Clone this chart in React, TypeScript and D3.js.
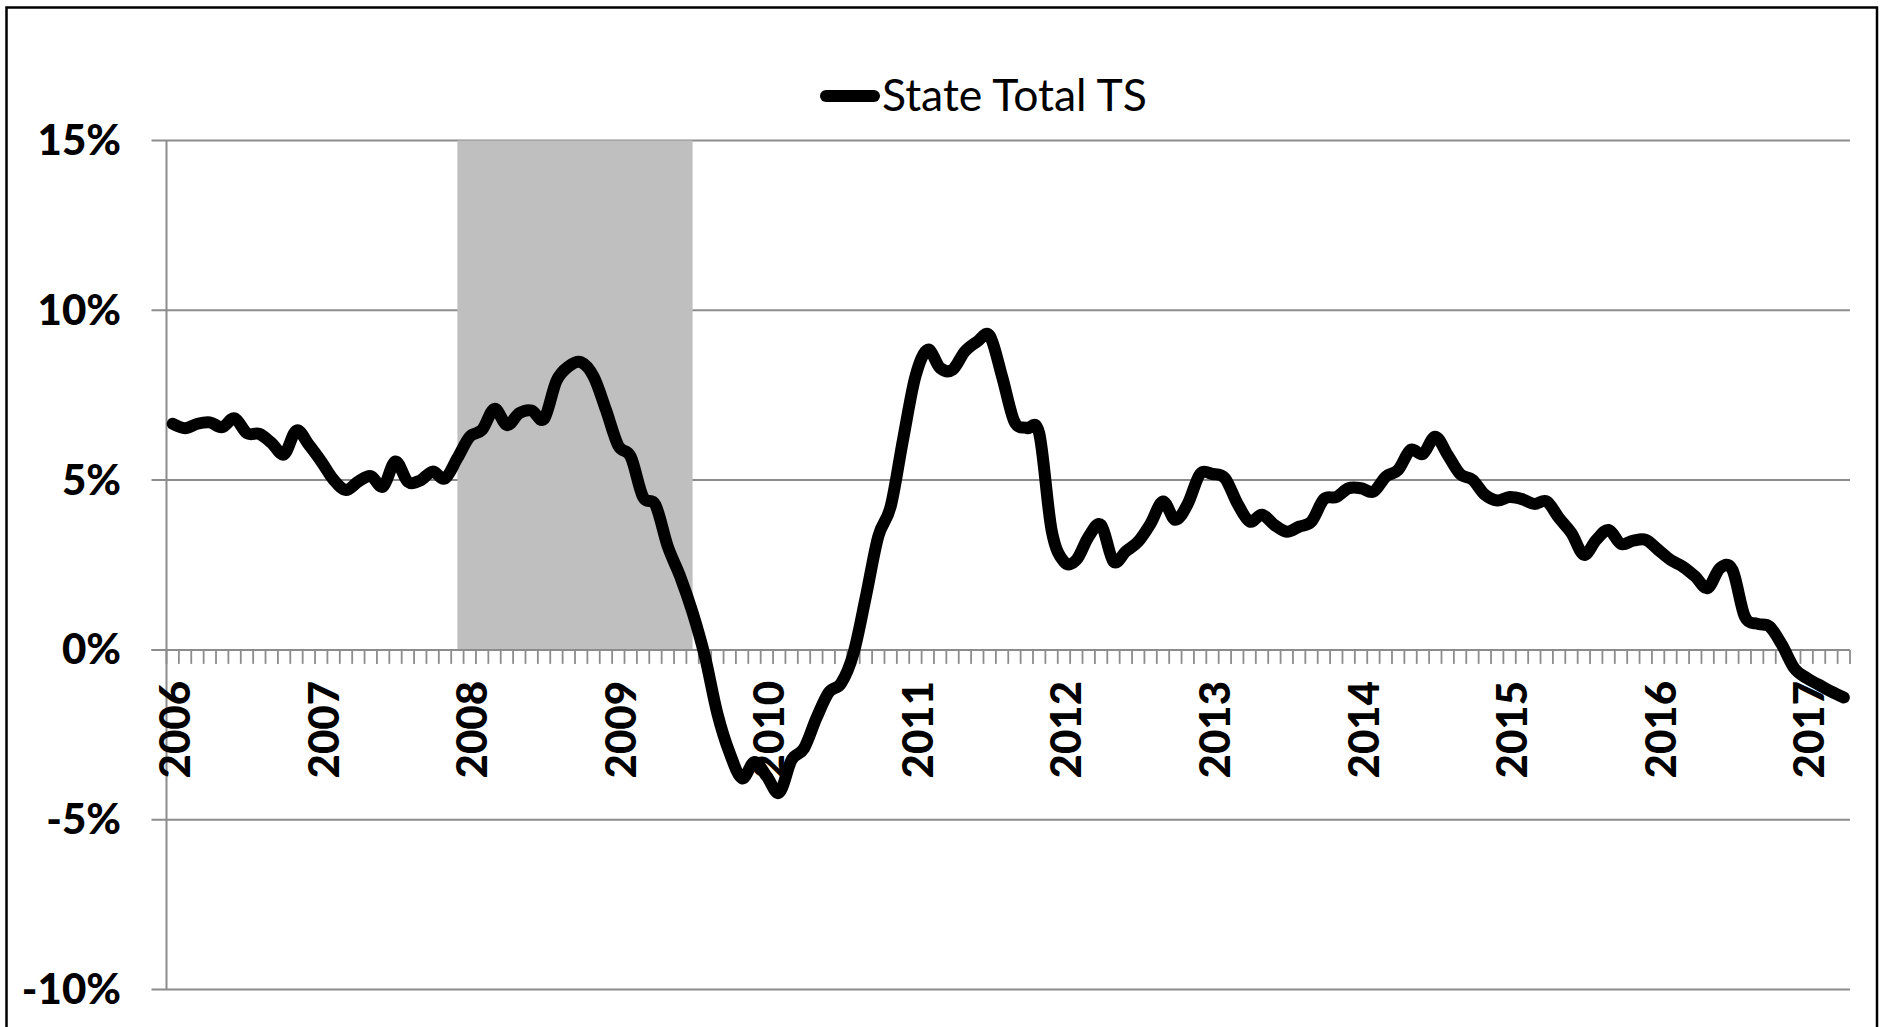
import React, { useEffect, useRef } from "react";
import * as d3 from "d3";

// monthly categories, Jan 2006 .. Apr 2017
const years = ["2006", "2007", "2008", "2009", "2010", "2011", "2012", "2013", "2014", "2015", "2016", "2017"];
const monthNums = ["01", "02", "03", "04", "05", "06", "07", "08", "09", "10", "11", "12"];

// State Total TS, year-over-year growth in %
const stateTotalTS = [
  6.66, 6.53, 6.66, 6.70, 6.56, 6.82, 6.38, 6.36, 6.09, 5.76, 6.46, 6.04,
  5.55, 5.01, 4.71, 4.96, 5.12, 4.81, 5.55, 4.95, 4.99, 5.25, 5.05, 5.65,
  6.28, 6.48, 7.10, 6.62, 6.97, 7.05, 6.80, 7.92, 8.35, 8.47, 8.05, 7.07,
  6.01, 5.69, 4.50, 4.27, 3.04, 2.16, 1.10, -0.20, -1.87, -3.04, -3.78, -3.30,
  -3.73, -4.20, -3.24, -2.90, -2.01, -1.25, -0.98, -0.10, 1.57, 3.34, 4.22, 6.19,
  8.05, 8.84, 8.30, 8.25, 8.79, 9.08, 9.25, 8.05, 6.72, 6.53, 6.38, 3.53,
  2.60, 2.65, 3.34, 3.68, 2.60, 2.90, 3.19, 3.72, 4.37, 3.83, 4.30, 5.18,
  5.18, 5.06, 4.32, 3.78, 3.98, 3.68, 3.48, 3.63, 3.78, 4.44, 4.50, 4.76,
  4.76, 4.66, 5.10, 5.30, 5.89, 5.77, 6.28, 5.74, 5.18, 5.01, 4.57, 4.40,
  4.50, 4.44, 4.30, 4.37, 3.88, 3.44, 2.80, 3.24, 3.53, 3.12, 3.22, 3.24,
  2.95, 2.65, 2.45, 2.16, 1.82, 2.41, 2.36, 0.98, 0.77, 0.69, 0.15, -0.54,
  -0.83, -1.03, -1.23, -1.40,
];

const yTicks = [15, 10, 5, 0, -5, -10];
const recession = ["2007-12", "2009-07"];
const seriesName = "State Total TS";

const months = years
  .flatMap((yr) => monthNums.map((m) => `${yr}-${m}`))
  .slice(0, stateTotalTS.length);

const FONT = "Lato, 'Open Sans', sans-serif";

export default function App() {
  const ref = useRef<SVGSVGElement>(null);

  useEffect(() => {
    const width = 1885, height = 1027;
    const plotLeft = 166.5, plotRight = 1850, plotTop = 140.5, plotBottom = 989.5;

    const svg = d3.select(ref.current);
    svg.selectAll("*").remove();

    const x = d3.scaleBand().domain(months).range([plotLeft, plotRight]).padding(0);
    const y = d3.scaleLinear().domain([-10, 15]).range([plotBottom, plotTop]);
    const cx = (m: string) => (x(m) as number) + x.bandwidth() / 2;

    svg.append("rect")
      .attr("x", 0).attr("y", 0)
      .attr("width", width).attr("height", height)
      .attr("fill", "white");

    // outer chart border
    svg.append("rect")
      .attr("x", 6.5).attr("y", 7.5)
      .attr("width", 1870.5).attr("height", 1030)
      .attr("fill", "none")
      .attr("stroke", "black")
      .attr("stroke-width", 2.5);

    // horizontal gridlines
    svg.append("g")
      .selectAll("line")
      .data(yTicks)
      .enter()
      .append("line")
      .attr("x1", plotLeft - 15).attr("x2", plotRight)
      .attr("y1", (d) => y(d)).attr("y2", (d) => y(d))
      .attr("stroke", "#8c8c8c")
      .attr("stroke-width", 2);

    // recession shading
    svg.append("rect")
      .attr("x", cx(recession[0]))
      .attr("y", y(15))
      .attr("width", cx(recession[1]) - cx(recession[0]))
      .attr("height", y(0) - y(15))
      .attr("fill", "#bfbfbf");

    // category axis at 0%
    svg.append("line")
      .attr("x1", plotLeft - 15).attr("x2", plotRight)
      .attr("y1", y(0)).attr("y2", y(0))
      .attr("stroke", "#8c8c8c")
      .attr("stroke-width", 2);

    const tickPos = months.map((m) => x(m) as number).concat([plotRight]);
    svg.append("g")
      .selectAll("line")
      .data(tickPos)
      .enter()
      .append("line")
      .attr("x1", (d) => d).attr("x2", (d) => d)
      .attr("y1", y(0)).attr("y2", y(0) + 14)
      .attr("stroke", "#8c8c8c")
      .attr("stroke-width", 1.8);

    // value axis line
    svg.append("line")
      .attr("x1", plotLeft).attr("x2", plotLeft)
      .attr("y1", plotTop).attr("y2", plotBottom)
      .attr("stroke", "#8c8c8c")
      .attr("stroke-width", 2);

    // y labels
    svg.append("g")
      .selectAll("text")
      .data(yTicks)
      .enter()
      .append("text")
      .attr("x", 121)
      .attr("y", (d) => y(d) + 14.5)
      .attr("text-anchor", "end")
      .attr("font-family", FONT)
      .attr("font-weight", 900)
      .attr("font-size", 42)
      .attr("fill", "black")
      .text((d) => `${d}%`);

    // year labels, rotated
    const janMonths = months.filter((m) => m.endsWith("-01"));
    svg.append("g")
      .selectAll("text")
      .data(janMonths)
      .enter()
      .append("text")
      .attr("transform", (m) => `translate(${cx(m) + 17.5},681) rotate(-90)`)
      .attr("text-anchor", "end")
      .attr("font-family", FONT)
      .attr("font-weight", 900)
      .attr("font-size", 42)
      .attr("fill", "black")
      .text((m) => m.slice(0, 4));

    // the series
    const line = d3.line<number>()
      .x((_, i) => cx(months[i]))
      .y((d) => y(d))
      .curve(d3.curveCatmullRom.alpha(0));

    svg.append("path")
      .datum(stateTotalTS)
      .attr("d", line)
      .attr("fill", "none")
      .attr("stroke", "black")
      .attr("stroke-width", 12)
      .attr("stroke-linejoin", "round")
      .attr("stroke-linecap", "round");

    // legend
    svg.append("line")
      .attr("x1", 826).attr("x2", 874)
      .attr("y1", 96).attr("y2", 96)
      .attr("stroke", "black")
      .attr("stroke-width", 12)
      .attr("stroke-linecap", "round");
    svg.append("text")
      .attr("x", 882)
      .attr("y", 110.5)
      .attr("font-family", FONT)
      .attr("font-size", 44.5)
      .attr("fill", "black")
      .text(seriesName);
  }, []);

  return (
    <svg
      ref={ref}
      width={1885}
      height={1027}
      style={{ position: "absolute", left: 0, top: 0, display: "block" }}
    />
  );
}
